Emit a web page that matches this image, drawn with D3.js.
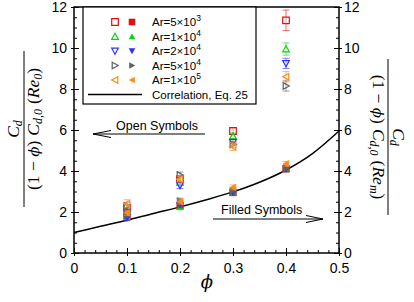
<!DOCTYPE html>
<html>
<head>
<meta charset="utf-8">
<script src="https://d3js.org/d3.v7.min.js"></script>
<style>
  body { margin: 0; background: #fff; }
  svg { display: block; font-family: "Liberation Sans", Arial, sans-serif; }
  .tick text { font-size: 14px; fill: #000; }
  .domain { display: none; }
  .tick line { stroke: #000; stroke-width: 1; }
</style>
</head>
<body>
<svg id="chart" width="414" height="302"></svg>
<script>
// volume fraction of the measured cases
var phi = [0.1, 0.2, 0.3, 0.4];

// series labels (mantissa, exponent)
var arLabels = [["5", "3"], ["1", "4"], ["2", "4"], ["5", "4"], ["1", "5"]];

// open symbols: normalised with Re0
var open5e3 = [2.2, 3.6, 5.95, 11.35];
var open1e4 = [2.05, 3.45, 5.7, 9.95];
var open2e4 = [1.95, 3.3, 5.4, 9.25];
var open5e4 = [2.3, 3.8, 5.3, 8.15];
var open1e5 = [2.4, 3.6, 5.2, 8.6];
var openErr5e3 = [0.15, 0.15, 0.15, 0.5];
var openErr1e4 = [0.15, 0.15, 0.15, 0.3];
var openErr2e4 = [0.15, 0.15, 0.15, 0.25];
var openErr5e4 = [0.15, 0.15, 0.15, 0.25];
var openErr1e5 = [0.2, 0.15, 0.2, 0.25];

// filled symbols: normalised with Rem
var filled5e3 = [1.8, 2.3, 2.95, 4.1];
var filled1e4 = [1.75, 2.25, 2.95, 4.1];
var filled2e4 = [1.7, 2.35, 2.95, 4.1];
var filled5e4 = [1.85, 2.55, 3.05, 4.15];
var filled1e5 = [1.95, 2.5, 3.2, 4.35];
var filledErr = [0.12, 0.12, 0.12, 0.12];

// correlation, Eq. 25
var corrPhi = [0, 0.05, 0.1, 0.15, 0.2, 0.25, 0.3, 0.35, 0.4, 0.45, 0.5];
var corrVal = [1.0, 1.3, 1.6, 1.93, 2.25, 2.6, 2.98, 3.45, 4.05, 4.85, 5.95];

var xTicks = [0, 0.1, 0.2, 0.3, 0.4, 0.5];
var yTicks = [0, 2, 4, 6, 8, 10, 12];

var colors = ["#e01010", "#10d010", "#3030ff", "#606060", "#ff8a1a"];
var shapes = ["square", "up", "down", "right", "left"];

var openSeries = [open5e3, open1e4, open2e4, open5e4, open1e5];
var openErrs = [openErr5e3, openErr1e4, openErr2e4, openErr5e4, openErr1e5];
var filledSeries = [filled5e3, filled1e4, filled2e4, filled5e4, filled1e5];

var svg = d3.select("#chart");
var x = d3.scaleLinear().domain([0, 0.5]).range([74, 339]);
var y = d3.scaleLinear().domain([0, 12]).range([253, 7]);

function marker(shape, s) {
  var h = s * 0.85;
  if (shape == "square") return "M" + -s + "," + -s + "H" + s + "V" + s + "H" + -s + "Z";
  if (shape == "up") return "M0," + -s + "L" + s + "," + h + "L" + -s + "," + h + "Z";
  if (shape == "down") return "M0," + s + "L" + s + "," + -h + "L" + -s + "," + -h + "Z";
  if (shape == "right") return "M" + s + ",0L" + -h + "," + s + "L" + -h + "," + -s + "Z";
  return "M" + -s + ",0L" + h + "," + s + "L" + h + "," + -s + "Z";
}

// minor ticks (inside)
var xMinor = d3.range(0, 0.501, 0.02);
var yMinor = d3.range(0, 12.01, 0.5);
svg.append("g").attr("transform", "translate(0,253)")
  .call(d3.axisBottom(x).tickValues(xMinor).tickSize(-3).tickFormat(""));
svg.append("g").attr("transform", "translate(74,0)")
  .call(d3.axisLeft(y).tickValues(yMinor).tickSize(-3).tickFormat(""));
svg.append("g").attr("transform", "translate(339,0)")
  .call(d3.axisRight(y).tickValues(yMinor).tickSize(-3).tickFormat(""));

// major ticks inside
svg.append("g").attr("transform", "translate(0,253)")
  .call(d3.axisBottom(x).tickValues(xTicks).tickSize(-5).tickFormat(""));
svg.append("g").attr("transform", "translate(74,0)")
  .call(d3.axisLeft(y).tickValues(yTicks).tickSize(-5).tickFormat(""));
svg.append("g").attr("transform", "translate(339,0)")
  .call(d3.axisRight(y).tickValues(yTicks).tickSize(-5).tickFormat(""));

// major ticks outside with labels
svg.append("g").attr("transform", "translate(0,253)")
  .call(d3.axisBottom(x).tickValues(xTicks).tickSize(3).tickPadding(7).tickFormat(d3.format("")));
svg.append("g").attr("transform", "translate(74,0)")
  .call(d3.axisLeft(y).tickValues(yTicks).tickSize(3).tickPadding(4));
svg.append("g").attr("transform", "translate(339,0)")
  .call(d3.axisRight(y).tickValues(yTicks).tickSize(3).tickPadding(2));

// correlation curve
svg.append("path")
  .datum(d3.zip(corrPhi, corrVal))
  .attr("fill", "none")
  .attr("stroke", "#000")
  .attr("stroke-width", 1.5)
  .attr("d", d3.line().x(d => x(d[0])).y(d => y(d[1])).curve(d3.curveMonotoneX));

// data points
function drawSeries(vals, errs, i, filled) {
  var g = svg.append("g");
  var pts = g.selectAll("g").data(phi.map((p, k) => [p, vals[k], errs[k]])).enter().append("g")
    .attr("transform", d => "translate(" + x(d[0]) + ",0)");
  pts.append("path")
    .attr("fill", "none")
    .attr("stroke", colors[i])
    .attr("stroke-opacity", 0.6)
    .attr("stroke-width", 1)
    .attr("d", d => "M-3.5," + y(d[1] + d[2]) + "H3.5M0," + y(d[1] + d[2]) + "V" + y(d[1] - d[2]) +
      "M-3.5," + y(d[1] - d[2]) + "H3.5");
  pts.append("path")
    .attr("transform", d => "translate(0," + y(d[1]) + ")")
    .attr("d", marker(shapes[i], 3.3))
    .attr("fill", filled ? colors[i] : "#fff")
    .attr("fill-opacity", filled ? 1 : 0.3)
    .attr("stroke", colors[i])
    .attr("stroke-width", filled ? 0.5 : 1.2);
}
openSeries.forEach((s, i) => drawSeries(s, openErrs[i], i, false));
filledSeries.forEach((s, i) => drawSeries(s, filledErr, i, true));

// frame
svg.append("rect")
  .attr("x", 74).attr("y", 7).attr("width", 265).attr("height", 246)
  .attr("fill", "none").attr("stroke", "#000").attr("stroke-width", 1.5);

// legend
var lg = svg.append("g");
lg.append("rect")
  .attr("x", 83).attr("y", 7).attr("width", 173).attr("height", 97)
  .attr("fill", "#fff").attr("stroke", "#000").attr("stroke-width", 1.2);
arLabels.forEach((lab, i) => {
  var yy = 22 + i * 14.5;
  lg.append("path").attr("transform", "translate(115," + yy + ")")
    .attr("d", marker(shapes[i], 3.3)).attr("fill", "#fff")
    .attr("stroke", colors[i]).attr("stroke-width", 1.2);
  lg.append("path").attr("transform", "translate(132," + yy + ")")
    .attr("d", marker(shapes[i], 3.3)).attr("fill", colors[i]);
  var t = lg.append("text").attr("x", 152).attr("y", yy + 4).attr("font-size", 11.5);
  t.append("tspan").text("Ar=" + lab[0] + "\u00d710");
  t.append("tspan").attr("dy", -5).attr("font-size", 8.5).text(lab[1]);
});
lg.append("line").attr("x1", 88).attr("x2", 142).attr("y1", 94.5).attr("y2", 94.5)
  .attr("stroke", "#000").attr("stroke-width", 1.5);
lg.append("text").attr("x", 152).attr("y", 98.5).attr("font-size", 11.5).text("Correlation, Eq. 25");

// annotations
svg.append("text").attr("x", 116).attr("y", 130).attr("font-size", 12.5).text("Open Symbols");
svg.append("path").attr("fill", "none").attr("stroke", "#000").attr("stroke-width", 1)
  .attr("d", "M205,134H93M111,130.5L93,134L111,137.5");
svg.append("text").attr("x", 221).attr("y", 214).attr("font-size", 12.5).text("Filled Symbols");
svg.append("path").attr("fill", "none").attr("stroke", "#000").attr("stroke-width", 1)
  .attr("d", "M213,219H323M306,215.5L323,219L306,222.5");

// x label
svg.append("text").attr("x", 207).attr("y", 288).attr("text-anchor", "middle")
  .attr("font-family", "DejaVu Serif, serif").attr("font-style", "italic").attr("font-size", 18)
  .text("\u03d5");

// y labels (fractions)
function fraction(tx, ty, rot, sub0) {
  var g = svg.append("g").attr("transform", "translate(" + tx + "," + ty + ") rotate(" + rot + ")")
    .attr("font-family", "Liberation Serif, serif").attr("font-size", 17.5);
  var n = g.append("text").attr("text-anchor", "middle").attr("y", -5);
  n.append("tspan").attr("font-style", "italic").text("C");
  n.append("tspan").attr("font-style", "italic").attr("font-size", 12).attr("dy", 3).text("d");
  g.append("line").attr("x1", -78).attr("x2", 78).attr("y1", 0).attr("y2", 0)
    .attr("stroke", "#000").attr("stroke-width", 1);
  var d = g.append("text").attr("text-anchor", "middle").attr("y", 15);
  d.append("tspan").text("(1 \u2212 ");
  d.append("tspan").attr("font-style", "italic").attr("font-family", "DejaVu Serif, serif")
    .attr("font-size", 15).text("\u03d5");
  d.append("tspan").text(")");
  d.append("tspan").attr("font-style", "italic").attr("dx", 5).text("C");
  d.append("tspan").attr("font-style", "italic").attr("font-size", 12).attr("dy", 3).text("d,0");
  d.append("tspan").attr("dy", -3).attr("dx", 5).text("(");
  d.append("tspan").attr("font-style", "italic").text("Re");
  d.append("tspan").attr("font-style", "italic").attr("font-size", 12).attr("dy", 3).text(sub0);
  d.append("tspan").attr("dy", -3).text(")");
}
fraction(24, 129, -90, "0");
fraction(388, 137, 90, "m");
</script>
</body>
</html>
